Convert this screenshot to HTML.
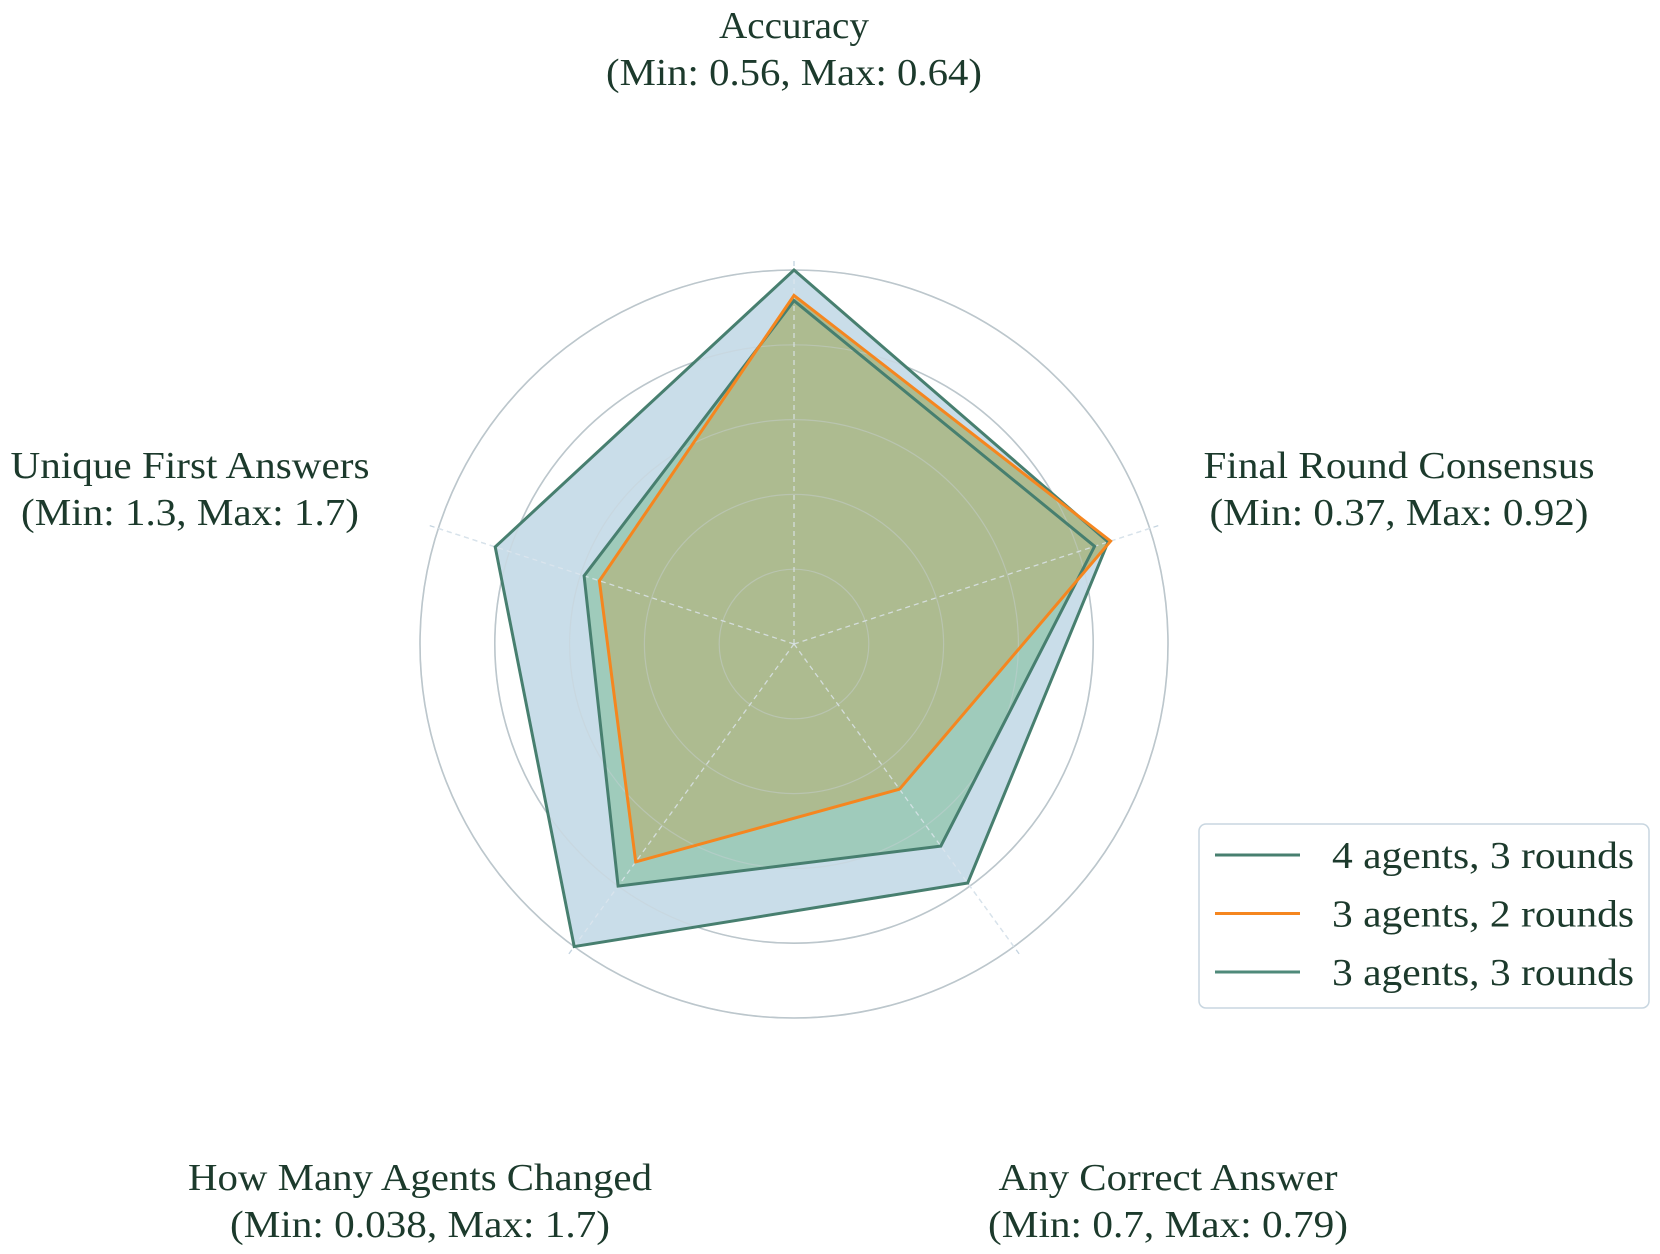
<!DOCTYPE html>
<html><head><meta charset="utf-8"><style>
html,body{margin:0;padding:0;background:#fff;}
svg{display:block;}
text{font-family:"Liberation Serif",serif;fill:#1c3a2c;}
</style></head><body>
<svg id="chart" width="1660" height="1254" viewBox="0 0 1660 1254" xmlns="http://www.w3.org/2000/svg">
<g id="grid"></g>
<g id="fills"></g>
<g id="gridover"></g>
<g id="lines"></g>
<g id="labels"></g>
<g id="legend"></g>
</svg>
<script>
const categories = ["Accuracy","Final Round Consensus","Any Correct Answer","How Many Agents Changed","Unique First Answers"];
const rangeLabels = ["(Min: 0.56, Max: 0.64)","(Min: 0.37, Max: 0.92)","(Min: 0.7, Max: 0.79)","(Min: 0.038, Max: 1.7)","(Min: 1.3, Max: 1.7)"];
const seriesNames = ["4 agents, 3 rounds","3 agents, 2 rounds","3 agents, 3 rounds"];
const series4a3r = [1.0, 0.883, 0.79, 1.0, 0.84];
const series3a2r = [0.932, 0.89, 0.48, 0.72, 0.547];
const series3a3r = [0.918, 0.845, 0.668, 0.80, 0.59];
const ringLevels = [0.2, 0.4, 0.6, 0.8, 1.0];

const NS="http://www.w3.org/2000/svg";
const cx=794, cy=644, R=374;
function ang(i){return Math.PI/2 - i*2*Math.PI/categories.length;}
function px(i,v){return cx+Math.cos(ang(i))*v*R;}
function py(i,v){return cy-Math.sin(ang(i))*v*R;}
function mk(tag,attrs,parent){const e=document.createElementNS(NS,tag);for(const k in attrs)e.setAttribute(k,attrs[k]);parent.appendChild(e);return e;}

const grid=document.getElementById('grid');
const gridover=document.getElementById('gridover');
ringLevels.forEach((lv,j)=>{
  const c=mk('circle',{cx:cx,cy:cy,r:lv*R,fill:'none',stroke:j>=2?'#b4c0c6':'#d0d8dc','stroke-width':j>=2?1.6:1.2},grid);
  
  
  const c2=mk('circle',{cx:cx,cy:cy,r:lv*R,fill:'none',stroke:'#c8d0d4','stroke-opacity':0.45,'stroke-width':1.2},gridover);
  
  
});
categories.forEach((c,i)=>{
  const l=mk('line',{x1:cx,y1:cy,x2:px(i,1.03),y2:py(i,1.03),stroke:'#c4d4e0','stroke-width':1.3,'stroke-dasharray':'5,4'},grid);
  
  
  const l2=mk('line',{x1:cx,y1:cy,x2:px(i,1.0),y2:py(i,1.0),stroke:'#dde6ee','stroke-opacity':0.8,'stroke-width':1.3,'stroke-dasharray':'5,4'},gridover);
  
  
});

function pts(vals){return vals.map((v,i)=>px(i,v).toFixed(1)+','+py(i,v).toFixed(1)).join(' ');}
const fills=document.getElementById('fills'), lines=document.getElementById('lines');
const allSeries=[series4a3r,series3a3r,series3a2r];
const fillCols=['#c9dde9','#9fcbbb','#adbb90'];
const lineCols=['#477f6f','#477f6f','#f5861f'];
const names=['series-4-agents-3-rounds','series-3-agents-3-rounds','series-3-agents-2-rounds'];
allSeries.forEach((s,k)=>{
  const p=mk('polygon',{points:pts(s),fill:fillCols[k],stroke:'none'},fills);
  
  
});
allSeries.forEach((s,k)=>{
  const p=mk('polygon',{points:pts(s),fill:'none',stroke:lineCols[k],'stroke-width':3,'stroke-linejoin':'miter'},lines);
  
  
});

const labels=document.getElementById('labels');
const labelX=[794,1399,1168,420,190];
const labelY=[38,478,1190,1190,478];
const w1=[150,391,339,464,359];
const w2=[376,379,360,380,338];
categories.forEach((c,i)=>{
  const t=mk('text',{x:labelX[i],y:labelY[i],'text-anchor':'middle','font-size':38,textLength:w1[i],lengthAdjust:'spacingAndGlyphs'},labels);
  t.textContent=c;
  
  
  const t2=mk('text',{x:labelX[i],y:labelY[i]+47,'text-anchor':'middle','font-size':38,textLength:w2[i],lengthAdjust:'spacingAndGlyphs'},labels);
  t2.textContent=rangeLabels[i];
  
  
});

const legend=document.getElementById('legend');
const box=mk('rect',{x:1199,y:824,width:450,height:184,rx:7,fill:'#fff',stroke:'#c8d6e0','stroke-width':1.5},legend);


const legCols=['#477f6f','#f5861f','#4f8a7a'];
seriesNames.forEach((n,i)=>{
  const y=855+i*58.5;
  const l=mk('line',{x1:1215,y1:y,x2:1300,y2:y,stroke:legCols[i],'stroke-width':3},legend);
  
  
  const t=mk('text',{x:1332,y:y+13,'font-size':38,textLength:302,lengthAdjust:'spacingAndGlyphs'},legend);
  t.textContent=n;
  
  
});
</script>
</body></html>
